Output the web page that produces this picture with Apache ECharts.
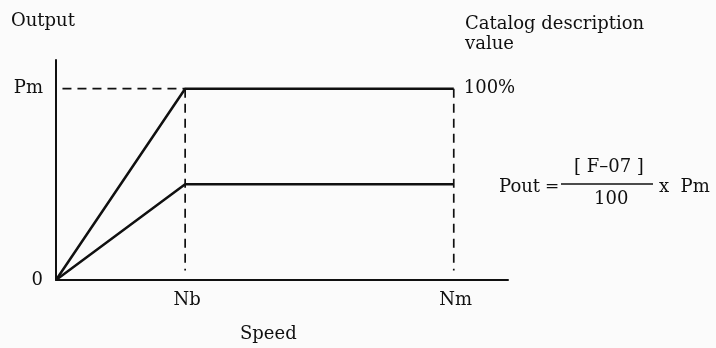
<!DOCTYPE html>
<html>
<head>
<meta charset="utf-8">
<script src="https://cdn.jsdelivr.net/npm/echarts@6/dist/echarts.min.js"></script>
<style>
  html, body { margin: 0; padding: 0; background: #fbfbfb; }
  #chart { width: 716px; height: 348px; }
</style>
</head>
<body>
<div id="chart"></div>
<script>
// Speed axis: base speed Nb and maximum speed Nm (relative units)
const speedValues = [1, 3.08];
const speedLabels = ['Nb', 'Nm'];
const speedMax = 3.5;

// Output axis: 0 and rated output Pm (percent of catalog value)
const outputValues = [0, 100];
const outputLabels = ['0', 'Pm'];
const outputMax = 115;

// Output curves: full rated output and reduced output set by F-07 (%)
const f07 = 50;
const ratedCurve = [[0, 0], [speedValues[0], 100], [speedValues[1], 100]];
const reducedCurve = [[0, 0], [speedValues[0], f07], [speedValues[1], f07]];

// Dashed guide lines
const guideStart = 0.05;
const guideEnd = 5;
const pmGuide = [[guideStart, 100], [speedValues[0], 100]];
const nbGuide = [[speedValues[0], 100], [speedValues[0], guideEnd]];
const nmGuide = [[speedValues[1], 100], [speedValues[1], guideEnd]];

const ink = '#101010';
const font = 'DejaVu Serif';

function labelFor(values, labels) {
  return function (v) {
    for (let i = 0; i < values.length; i++) {
      if (Math.abs(values[i] - v) < 1e-6) return labels[i];
    }
    return '';
  };
}

function solid(data, extra) {
  return Object.assign({
    type: 'line', data: data, symbol: 'circle', symbolSize: 0, silent: true,
    itemStyle: { color: ink },
    lineStyle: { color: ink, width: 2.5, type: 'solid' }
  }, extra || {});
}
function dashed(data) {
  return {
    type: 'line', data: data, symbol: 'none', silent: true,
    lineStyle: { color: ink, width: 1.7, type: [9, 6] }
  };
}

const chart = echarts.init(document.getElementById('chart'), null, { renderer: 'canvas' });
chart.setOption({
  backgroundColor: '#fbfbfb',
  animation: false,
  grid: { left: 56, right: 208, top: 60, bottom: 68 },
  xAxis: {
    type: 'value', min: 0, max: speedMax,
    splitLine: { show: false },
    axisLine: { show: true, onZero: false, lineStyle: { color: ink, width: 2 } },
    axisTick: { show: false },
    axisLabel: {
      customValues: speedValues,
      formatter: labelFor(speedValues, speedLabels),
      margin: 11, padding: [0, 0, 0, 4], color: ink, fontFamily: font, fontSize: 18
    }
  },
  yAxis: {
    type: 'value', min: 0, max: outputMax,
    splitLine: { show: false },
    axisLine: { show: true, lineStyle: { color: ink, width: 2 } },
    axisTick: { show: false },
    axisLabel: {
      customValues: outputValues,
      formatter: labelFor(outputValues, outputLabels),
      margin: 13, color: ink, fontFamily: font, fontSize: 18
    }
  },
  series: [
    dashed(pmGuide),
    dashed(nbGuide),
    dashed(nmGuide),
    solid(ratedCurve, {
      label: {
        show: true, position: 'right', distance: 10,
        color: ink, fontFamily: font, fontSize: 18,
        formatter: function (p) { return p.dataIndex === ratedCurve.length - 1 ? '100%' : ''; }
      }
    }),
    solid(reducedCurve)
  ],
  graphic: [
    { type: 'text', left: 11, top: 12, style: { text: 'Output', fill: ink, font: '18px "DejaVu Serif"' } },
    { type: 'text', left: 465, top: 14, style: { text: 'Catalog description\nvalue', fill: ink, font: '18px "DejaVu Serif"', lineHeight: 20 } },
    { type: 'text', left: 240, top: 325, style: { text: 'Speed', fill: ink, font: '18px "DejaVu Serif"' } },
    // Output setting formula
    { type: 'text', left: 499, top: 178, style: { text: 'Pout', fill: ink, font: '18px "DejaVu Serif"' } },
    { type: 'text', left: 545, top: 178, style: { text: '=', fill: ink, font: '17px "DejaVu Serif"' } },
    { type: 'text', left: 574, top: 158, style: { text: '[ F\u201307 ]', fill: ink, font: '18px "DejaVu Serif"' } },
    { type: 'line', shape: { x1: 561, y1: 184, x2: 653, y2: 184 }, style: { stroke: ink, lineWidth: 1.6 } },
    { type: 'text', left: 594, top: 190, style: { text: '100', fill: ink, font: '18px "DejaVu Serif"' } },
    { type: 'text', left: 659, top: 178, style: { text: 'x  Pm', fill: ink, font: '18px "DejaVu Serif"' } }
  ]
});
</script>
</body>
</html>
